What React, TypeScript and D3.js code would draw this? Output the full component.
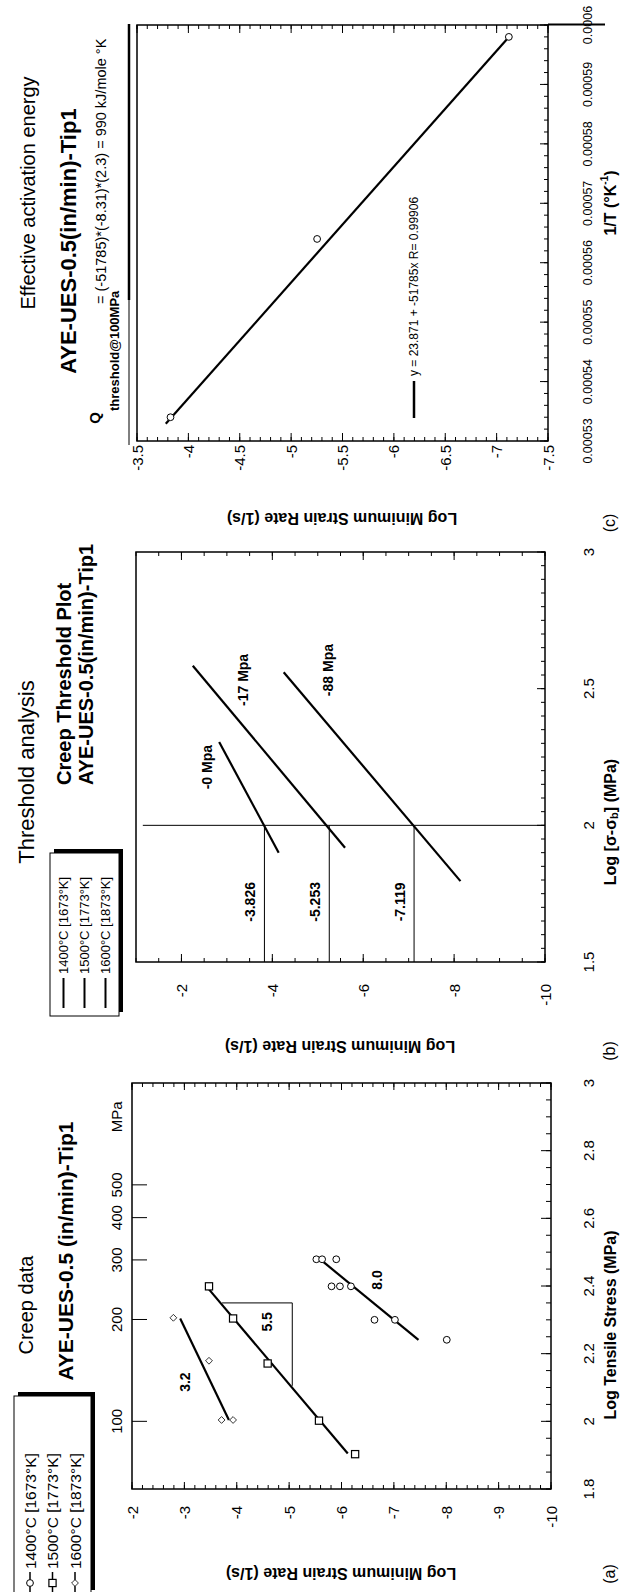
import React, { useRef, useEffect } from "react";
import * as d3 from "d3";

const W = 622;
const H = 1592;
const FONT = "'Liberation Sans', Arial, Helvetica, sans-serif";

// ---- (a) creep data : log stress (MPa) vs log min strain rate
const stress1400 = [2.479, 2.479, 2.479, 2.399, 2.399, 2.399, 2.3, 2.3, 2.241];
const rate1400 = [-5.52, -5.63, -5.9, -5.81, -5.97, -6.18, -6.63, -7.02, -8.01];
const stress1500 = [2.399, 2.304, 2.171, 2.002, 1.903];
const rate1500 = [-3.47, -3.93, -4.59, -5.57, -6.26];
const stress1600 = [2.306, 2.179, 2.004, 2.004];
const rate1600 = [-2.79, -3.47, -3.71, -3.93];
// fitted lines (end points)
const fit1400 = [[2.474, -5.63], [2.241, -7.47]];
const fit1500 = [[2.39, -3.47], [1.905, -6.12]];
const fit1600 = [[2.304, -2.92], [2.004, -3.85]];
const triangle = [[2.35, -3.72], [2.35, -5.06], [2.105, -5.06]];
const slopeLabels = ["3.2", "5.5", "8.0"];
const slopeLabelPos = [[2.116, -3.01], [2.294, -4.58], [2.418, -6.68]];
const mpaTicks = [100, 200, 300, 400, 500];
const legendLabels = ["1400°C [1673°K]", "1500°C [1773°K]", "1600°C [1873°K]"];

// ---- (b) threshold plot
const thresholdNames = ["-0 Mpa", "-17 Mpa", "-88 Mpa"];
const thresholdLines = [
  [[2.305, -2.83], [1.9, -4.14]],
  [[2.584, -2.25], [1.918, -5.6]],
  [[2.56, -4.25], [1.796, -8.14]],
];
const thresholdNamePos = [[2.213, -2.56], [2.532, -3.35], [2.568, -5.23]];
const rateAt100 = [-3.826, -5.253, -7.119];

// ---- (c) activation energy
const invT = [0.000534, 0.000564, 0.000598];
const rateC = [-3.826, -5.253, -7.119];
const fitC = [[0.0005329, -3.78], [0.0005976, -7.1]];

const App = () => {
  const svgRef = useRef(null);

  useEffect(() => {
    const svg = d3.select(svgRef.current);
    svg.selectAll("*").remove();
    // whole figure is drawn landscape, then turned a quarter to the left
    const root = svg
      .append("g")
      .attr("transform", `translate(0,${H}) rotate(-90)`)
      .style("font-family", FONT);

    const ln = (g, x1, y1, x2, y2, w = 1) =>
      g.append("line").attr("x1", x1).attr("y1", y1).attr("x2", x2).attr("y2", y2)
        .attr("stroke", "#000").attr("stroke-width", w);

    const txt = (g, x, y, s, size, opts: any = {}) =>
      g.append("text").attr("x", x).attr("y", y).text(s)
        .attr("font-size", size)
        .attr("font-weight", opts.bold ? "bold" : "normal")
        .attr("text-anchor", opts.anchor || "middle")
        .attr("dominant-baseline", "central")
        .attr("fill", "#000");

    const xTicks = (g, x, vals, yEdge, len, dir) =>
      vals.forEach((v) => ln(g, x(v), yEdge, x(v), yEdge + dir * len, 1));
    const yTicks = (g, y, vals, xEdge, len, dir) =>
      vals.forEach((v) => ln(g, xEdge, y(v), xEdge + dir * len, y(v), 1));

    const frame = (g, x, y) => {
      const [x0, x1] = x.range();
      const [y0, y1] = y.range();
      g.append("rect").attr("x", x0).attr("y", y0).attr("width", x1 - x0).attr("height", y1 - y0)
        .attr("fill", "none").attr("stroke", "#000").attr("stroke-width", 1.5);
    };

    const yTitle = (g, u, v, s) =>
      g.append("text").attr("x", u).attr("y", v).attr("transform", `rotate(-90,${u},${v})`)
        .attr("text-anchor", "middle").attr("dominant-baseline", "central")
        .attr("font-size", 16).attr("font-weight", "bold").text(s);

    const circle = (g, cx, cy) =>
      g.append("circle").attr("cx", cx).attr("cy", cy).attr("r", 3.4)
        .attr("fill", "#fff").attr("stroke", "#000").attr("stroke-width", 1);
    const square = (g, cx, cy) =>
      g.append("rect").attr("x", cx - 3.6).attr("y", cy - 3.6).attr("width", 7.2).attr("height", 7.2)
        .attr("fill", "#fff").attr("stroke", "#000").attr("stroke-width", 1.2);
    const diamond = (g, cx, cy) =>
      g.append("path").attr("d", `M${cx},${cy - 3.4}L${cx + 3.4},${cy}L${cx},${cy + 3.4}L${cx - 3.4},${cy}Z`)
        .attr("fill", "#fff").attr("stroke", "#000").attr("stroke-width", 0.8);

    const fmt = (v) => String(+v.toFixed(5));

    // ================= (a) =================
    const ga = root.append("g");
    const xA = d3.scaleLinear().domain([1.8, 3]).range([103, 509]);
    const yA = d3.scaleLinear().domain([-2, -10]).range([132, 551]);
    const mpa = d3.scaleLog().domain([Math.pow(10, 1.8), 1000]).range([103, 509]);

    // legend with shadow
    ga.append("rect").attr("x", 2).attr("y", 18).attr("width", 198).attr("height", 77).attr("fill", "#000");
    ga.append("rect").attr("x", -2).attr("y", 14).attr("width", 198).attr("height", 77)
      .attr("fill", "#fff").attr("stroke", "#000").attr("stroke-width", 1);
    const markers = [circle, square, diamond];
    legendLabels.forEach((s, i) => {
      const v = 30 + i * 22.5;
      ln(ga, 0, v, 20, v, 1.5);
      markers[i](ga, 9, v);
      txt(ga, 23, v, s, 15.5, { anchor: "start" });
    });

    txt(ga, 287, 26, "Creep data", 20);
    txt(ga, 341, 65, "AYE-UES-0.5 (in/min)-Tip1", 21, { bold: true });

    frame(ga, xA, yA);
    xTicks(ga, xA, d3.range(0, 25).map((i) => 1.8 + i * 0.05), 551, 5, -1);
    xTicks(ga, xA, d3.range(0, 7).map((i) => 1.8 + i * 0.2), 551, 10, -1);
    xTicks(ga, mpa, mpaTicks, 132, 15, 1);
    [103, 509].forEach((edge, k) => {
      const dir = k === 0 ? 1 : -1;
      yTicks(ga, yA, d3.range(0, 41).map((i) => -2 - i * 0.2), edge, 4, dir);
      yTicks(ga, yA, d3.range(0, 9).map((i) => -2 - i), edge, 7, dir);
    });
    d3.range(0, 7).map((i) => 1.8 + i * 0.2).forEach((v) => txt(ga, xA(v), 588, fmt(v), 15));
    d3.range(0, 9).map((i) => -2 - i).forEach((v) => txt(ga, 86, yA(v), String(v), 15, { anchor: "end" }));
    mpaTicks.forEach((m) => txt(ga, mpa(m), 116, String(m), 15));
    txt(ga, xA(2.9), 116, "MPa", 15);
    txt(ga, 267, 610, "Log Tensile Stress (MPa)", 16, { bold: true });
    yTitle(ga, 19, 341, "Log Minimum Strain Rate (1/s)");
    txt(ga, 18, 609, "(a)", 16);

    ga.append("path")
      .attr("d", d3.line()(triangle.map(([s, r]) => [xA(s), yA(r)])))
      .attr("fill", "none").attr("stroke", "#000").attr("stroke-width", 1);
    [fit1400, fit1500, fit1600].forEach((f) =>
      ln(ga, xA(f[0][0]), yA(f[0][1]), xA(f[1][0]), yA(f[1][1]), 2.2));
    stress1400.forEach((s, i) => circle(ga, xA(s), yA(rate1400[i])));
    stress1500.forEach((s, i) => square(ga, xA(s), yA(rate1500[i])));
    stress1600.forEach((s, i) => diamond(ga, xA(s), yA(rate1600[i])));
    slopeLabels.forEach((s, i) =>
      txt(ga, xA(slopeLabelPos[i][0]), yA(slopeLabelPos[i][1]), s, 14, { bold: true }));

    // ================= (b) =================
    const gb = root.append("g");
    const xB = d3.scaleLinear().domain([1.5, 3]).range([630, 1040]);
    const yB = d3.scaleLinear().domain([-1, -10]).range([136, 545]);

    gb.append("rect").attr("x", 580).attr("y", 54).attr("width", 163).attr("height", 69).attr("fill", "#000");
    gb.append("rect").attr("x", 576).attr("y", 50).attr("width", 163).attr("height", 69)
      .attr("fill", "#fff").attr("stroke", "#000").attr("stroke-width", 1);
    legendLabels.forEach((s, i) => {
      const v = 63.5 + i * 21;
      ln(gb, 584, v, 614, v, 2);
      txt(gb, 618, v, s, 13, { anchor: "start" });
    });

    txt(gb, 820, 26, "Threshold analysis", 22);
    txt(gb, 807, 63.5, "Creep Threshold Plot", 20, { bold: true, anchor: "start" });
    txt(gb, 807, 86, "AYE-UES-0.5(in/min)-Tip1", 20, { bold: true, anchor: "start" });

    frame(gb, xB, yB);
    xTicks(gb, xB, d3.range(0, 31).map((i) => 1.5 + i * 0.05), 545, 4, -1);
    xTicks(gb, xB, d3.range(0, 4).map((i) => 1.5 + i * 0.5), 545, 8, -1);
    [630, 1040].forEach((edge, k) => {
      const dir = k === 0 ? 1 : -1;
      yTicks(gb, yB, d3.range(0, 19).map((i) => -1 - i * 0.5), edge, 4, dir);
      yTicks(gb, yB, [-2, -4, -6, -8, -10], edge, 8, dir);
    });
    d3.range(0, 4).map((i) => 1.5 + i * 0.5).forEach((v) => txt(gb, xB(v), 588, fmt(v), 15));
    [-2, -4, -6, -8, -10].forEach((v) => txt(gb, 608, yB(v), String(v), 15, { anchor: "end" }));
    const xbT = gb.append("text").attr("x", 770).attr("y", 610).attr("text-anchor", "middle")
      .attr("dominant-baseline", "central").attr("font-size", 16).attr("font-weight", "bold");
    xbT.append("tspan").text("Log [σ-σ");
    xbT.append("tspan").text("b").attr("font-size", 11).attr("dy", 4);
    xbT.append("tspan").text("] (MPa)").attr("dy", -4);
    yTitle(gb, 546, 340, "Log Minimum Strain Rate (1/s)");
    txt(gb, 541, 609, "(b)", 16);

    ln(gb, xB(2), yB(-1.15), xB(2), yB(-10), 1);
    rateAt100.forEach((r) => {
      ln(gb, xB(1.5), yB(r), xB(2), yB(r), 1);
      txt(gb, xB(1.72), yB(r) - 14, String(r), 14, { bold: true });
    });
    thresholdLines.forEach((f, i) => {
      ln(gb, xB(f[0][0]), yB(f[0][1]), xB(f[1][0]), yB(f[1][1]), 2.2);
      txt(gb, xB(thresholdNamePos[i][0]), yB(thresholdNamePos[i][1]), thresholdNames[i], 14, { bold: true });
    });

    // ================= (c) =================
    const gc = root.append("g");
    const xC = d3.scaleLinear().domain([0.00053, 0.0006]).range([1151, 1567]);
    const yC = d3.scaleLinear().domain([-3.5, -7.5]).range([137, 548]);

    txt(gc, 1399, 28, "Effective activation energy", 20);
    txt(gc, 1351, 68, "AYE-UES-0.5(in/min)-Tip1", 22, { bold: true });
    txt(gc, 1174, 94, "Q", 15, { bold: true });
    txt(gc, 1181, 114, "threshold@100MPa", 13, { bold: true, anchor: "start" });
    txt(gc, 1288, 101, "= (-51785)*(-8.31)*(2.3) = 990 kJ/mole °K", 14.5, { anchor: "start" });
    ln(gc, 1292, 129, 1568, 129, 2.5);
    ln(gc, 1147, 129, 1292, 129, 1);
    ln(gc, 1567.5, 548, 1567.5, 605, 2);

    frame(gc, xC, yC);
    xTicks(gc, xC, d3.range(0, 36).map((i) => 0.00053 + i * 0.000002), 548, 4, -1);
    xTicks(gc, xC, d3.range(0, 8).map((i) => 0.00053 + i * 0.00001), 548, 8, -1);
    [1151, 1567].forEach((edge, k) => {
      const dir = k === 0 ? 1 : -1;
      yTicks(gc, yC, d3.range(0, 41).map((i) => -3.5 - i * 0.1), edge, 4, dir);
      yTicks(gc, yC, d3.range(0, 9).map((i) => -3.5 - i * 0.5), edge, 8, dir);
    });
    d3.range(0, 8).map((i) => 0.00053 + i * 0.00001).forEach((v) => txt(gc, xC(v), 588, fmt(v), 12.5));
    d3.range(0, 9).map((i) => -3.5 - i * 0.5).forEach((v) => txt(gc, 1147, yC(v), fmt(v), 15, { anchor: "end" }));
    const xcT = gc.append("text").attr("x", 1389).attr("y", 610).attr("text-anchor", "middle")
      .attr("dominant-baseline", "central").attr("font-size", 16).attr("font-weight", "bold");
    xcT.append("tspan").text("1/T (°K");
    xcT.append("tspan").text("-1").attr("font-size", 10).attr("dy", -6);
    xcT.append("tspan").text(")").attr("dy", 6);
    yTitle(gc, 1074, 342, "Log Minimum Strain Rate (1/s)");
    txt(gc, 1069, 609, "(c)", 16);

    ln(gc, xC(fitC[0][0]), yC(fitC[0][1]), xC(fitC[1][0]), yC(fitC[1][1]), 2.2);
    invT.forEach((t, i) => circle(gc, xC(t), yC(rateC[i])));
    ln(gc, 1174, 414, 1211, 414, 2.5);
    txt(gc, 1216, 414, "y = 23.871 + -51785x R= 0.99906", 12, { anchor: "start" });
  }, []);

  return (
    <svg
      ref={svgRef}
      width={W}
      height={H}
      style={{ position: "absolute", left: 0, top: 0, background: "#fff" }}
    />
  );
};

export default App;
